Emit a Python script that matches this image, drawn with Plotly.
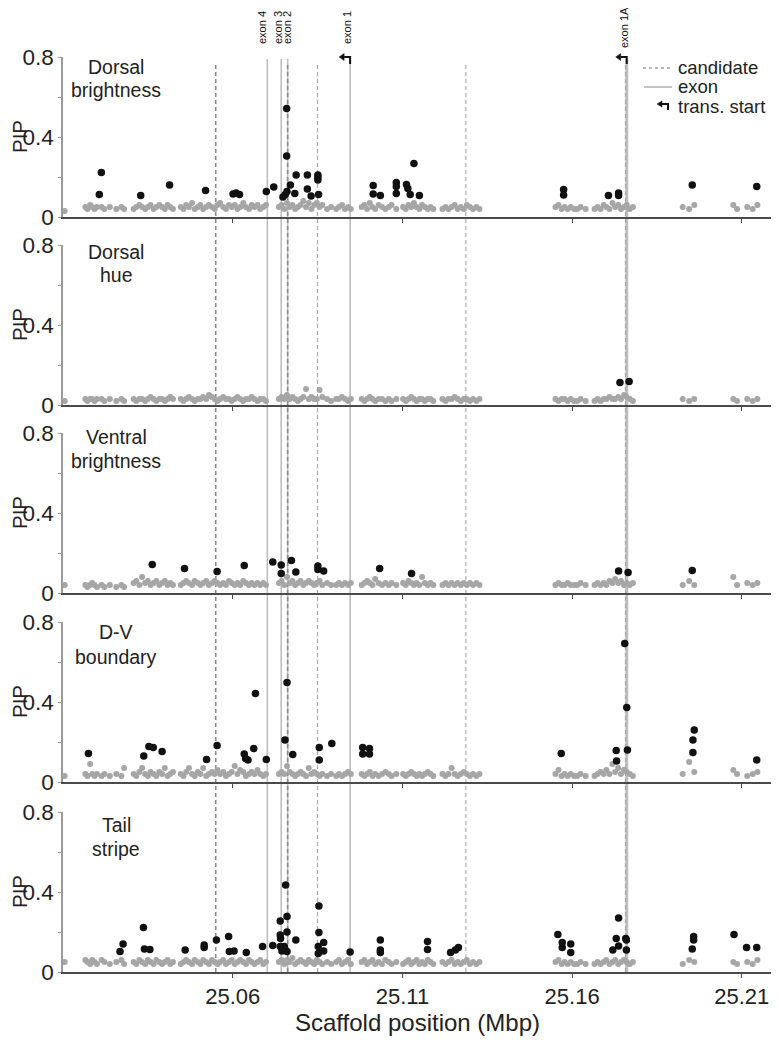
import plotly.graph_objects as go

# ---------------- data ----------------
PANEL_LABELS = [["Dorsal", "brightness"], ["Dorsal", "hue"], ["Ventral", "brightness"],
                ["D-V", "boundary"], ["Tail", "stripe"]]
X_TICKS = [25.06, 25.11, 25.16, 25.21]
X_TICK_TEXT = ["25.06", "25.11", "25.16", "25.21"]
Y_TICKS = [0, 0.2, 0.4, 0.6, 0.8]
Y_TICK_TEXT = ["0", "", "0.4", "", "0.8"]

CANDIDATES = [25.0550, 25.0762, 25.0850, 25.1287, 25.1757]
EXON_POS = [25.0702, 25.0743, 25.0762, 25.0946, 25.1761]
EXON_NAMES = ["exon 4", "exon 3", "exon 2", "exon 1", "exon 1A"]
TRANS_START = [25.0946, 25.1761]
LEGEND_ITEMS = ["candidate", "exon", "trans. start"]

# SNP positions shown in grey (shared by all panels)
GRAY_POS = [
    25.0105,
    25.0166, 25.0172, 25.0180, 25.0186, 25.0193, 25.0200,
    25.0214, 25.0222, 25.0238, 25.0257, 25.0272, 25.0280,
    25.0308, 25.0316, 25.0325, 25.0333, 25.0342, 25.0350, 25.0358, 25.0367, 25.0375, 25.0384,
    25.0392, 25.0400, 25.0408, 25.0416, 25.0424,
    25.0447, 25.0455, 25.0463, 25.0471, 25.0480, 25.0488, 25.0497, 25.0505, 25.0513, 25.0522,
    25.0530, 25.0539, 25.0547, 25.0555, 25.0563, 25.0572, 25.0580, 25.0589, 25.0597, 25.0606,
    25.0614, 25.0622, 25.0631, 25.0639, 25.0648, 25.0656, 25.0664, 25.0673, 25.0681, 25.0690, 25.0698,
    25.0736, 25.0744, 25.0752, 25.0760, 25.0768, 25.0776, 25.0784, 25.0792, 25.0800, 25.0808,
    25.0816, 25.0824, 25.0832, 25.0840, 25.0848, 25.0856, 25.0864, 25.0878, 25.0890, 25.0905,
    25.0913, 25.0922, 25.0931, 25.0940, 25.0948,
    25.0980, 25.0988, 25.0996, 25.1004, 25.1012, 25.1020, 25.1030, 25.1040, 25.1050, 25.1060, 25.1068,
    25.1082,
    25.1102, 25.1110, 25.1118, 25.1126, 25.1134, 25.1142, 25.1150, 25.1158, 25.1166, 25.1175, 25.1183, 25.1191,
    25.1218, 25.1227, 25.1236, 25.1245, 25.1254, 25.1263, 25.1272, 25.1281, 25.1290, 25.1299, 25.1308, 25.1318, 25.1327,
    25.1551, 25.1560, 25.1569, 25.1578, 25.1587, 25.1596, 25.1606, 25.1615, 25.1625, 25.1640,
    25.1666, 25.1675, 25.1684, 25.1693, 25.1701, 25.1710, 25.1719, 25.1727, 25.1736, 25.1744,
    25.1753, 25.1761, 25.1770, 25.1779,
    25.1926, 25.1945, 25.1960,
    25.2075, 25.2086, 25.2116, 25.2132, 25.2146,
]

GRAY_DB = [
    0.03,
    0.05, 0.04, 0.06, 0.05, 0.04, 0.05,
    0.05, 0.04, 0.05, 0.04, 0.05, 0.04,
    0.04, 0.05, 0.06, 0.05, 0.04, 0.05, 0.06, 0.04, 0.05, 0.06, 0.05, 0.04, 0.06, 0.05, 0.04,
    0.05, 0.04, 0.06, 0.05, 0.07, 0.04, 0.05, 0.06, 0.04, 0.05, 0.06, 0.05, 0.04, 0.06, 0.07, 0.05,
    0.04, 0.06, 0.05, 0.06, 0.04, 0.05, 0.07, 0.05, 0.04, 0.06, 0.05, 0.06, 0.04, 0.05, 0.06,
    0.05, 0.06, 0.04, 0.07, 0.05, 0.06, 0.04, 0.05, 0.06, 0.08, 0.05, 0.07, 0.04, 0.06, 0.07, 0.05,
    0.06, 0.04, 0.05, 0.04, 0.05, 0.06, 0.04, 0.05, 0.04,
    0.05, 0.06, 0.04, 0.07, 0.05, 0.04, 0.06, 0.05, 0.04, 0.05, 0.06,
    0.04,
    0.05, 0.04, 0.06, 0.05, 0.07, 0.05, 0.04, 0.06, 0.05, 0.04, 0.05, 0.04,
    0.04, 0.05, 0.04, 0.05, 0.06, 0.04, 0.05, 0.04, 0.06, 0.05, 0.04, 0.05, 0.04,
    0.05, 0.06, 0.04, 0.05, 0.04, 0.05, 0.04, 0.04, 0.05, 0.04,
    0.04, 0.05, 0.04, 0.06, 0.05, 0.04, 0.07, 0.05, 0.06, 0.04, 0.05, 0.06, 0.04, 0.05,
    0.05, 0.04, 0.06,
    0.06, 0.04, 0.05, 0.04, 0.06,
]
GRAY_DH = [
    0.02,
    0.03, 0.02, 0.03, 0.03, 0.02, 0.03,
    0.03, 0.02, 0.03, 0.02, 0.03, 0.02,
    0.03, 0.02, 0.03, 0.03, 0.02, 0.03, 0.04, 0.03, 0.02, 0.03, 0.03, 0.02, 0.03, 0.04, 0.03,
    0.03, 0.02, 0.03, 0.04, 0.03, 0.02, 0.03, 0.03, 0.04, 0.03, 0.05, 0.04, 0.03, 0.02, 0.03, 0.04,
    0.03, 0.03, 0.02, 0.03, 0.04, 0.03, 0.02, 0.03, 0.03, 0.04, 0.03, 0.02, 0.03, 0.03, 0.02,
    0.03, 0.04, 0.03, 0.05, 0.03, 0.04, 0.03, 0.02, 0.03, 0.04, 0.08, 0.03, 0.04, 0.03, 0.03, 0.075,
    0.04, 0.03, 0.02, 0.03, 0.03, 0.04, 0.03, 0.02, 0.03,
    0.03, 0.02, 0.03, 0.04, 0.03, 0.02, 0.03, 0.03, 0.02, 0.03, 0.02,
    0.03,
    0.03, 0.02, 0.03, 0.04, 0.03, 0.02, 0.03, 0.03, 0.02, 0.03, 0.03, 0.02,
    0.03, 0.02, 0.03, 0.03, 0.04, 0.03, 0.02, 0.03, 0.03, 0.02, 0.03, 0.02, 0.03,
    0.03, 0.02, 0.03, 0.03, 0.02, 0.03, 0.02, 0.02, 0.03, 0.02,
    0.02, 0.03, 0.02, 0.03, 0.03, 0.04, 0.03, 0.03, 0.04, 0.03, 0.05, 0.04, 0.03, 0.02,
    0.03, 0.02, 0.03,
    0.03, 0.02, 0.03, 0.02, 0.03,
]
GRAY_VB = [
    0.04,
    0.04, 0.03, 0.04, 0.05, 0.04, 0.03,
    0.04, 0.03, 0.04, 0.03, 0.04, 0.03,
    0.05, 0.06, 0.04, 0.08, 0.05, 0.06, 0.04, 0.05, 0.06, 0.04, 0.05, 0.06, 0.04, 0.05, 0.04,
    0.04, 0.05, 0.06, 0.05, 0.04, 0.06, 0.05, 0.04, 0.05, 0.06, 0.04, 0.05, 0.06, 0.05, 0.04, 0.05,
    0.04, 0.06, 0.05, 0.04, 0.05, 0.04, 0.06, 0.05, 0.04, 0.05, 0.04, 0.05, 0.04, 0.05, 0.04,
    0.05, 0.06, 0.04, 0.08, 0.05, 0.06, 0.04, 0.05, 0.06, 0.04, 0.05, 0.06, 0.05, 0.04, 0.05, 0.06,
    0.04, 0.05, 0.04, 0.04, 0.05, 0.04, 0.05, 0.04, 0.05,
    0.04, 0.05, 0.06, 0.05, 0.04, 0.07, 0.05, 0.04, 0.05, 0.04, 0.05,
    0.04,
    0.05, 0.04, 0.06, 0.05, 0.04, 0.05, 0.04, 0.08, 0.05, 0.04, 0.05, 0.04,
    0.04, 0.05, 0.04, 0.05, 0.04, 0.05, 0.04, 0.05, 0.04, 0.05, 0.04, 0.05, 0.04,
    0.04, 0.05, 0.04, 0.04, 0.05, 0.04, 0.04, 0.04, 0.05, 0.04,
    0.04, 0.05, 0.04, 0.05, 0.04, 0.06, 0.05, 0.07, 0.05, 0.06, 0.04, 0.05, 0.04, 0.05,
    0.04, 0.06, 0.04,
    0.08, 0.04, 0.05, 0.04, 0.05,
]
GRAY_DV = [
    0.03,
    0.04, 0.03, 0.09, 0.04, 0.03, 0.04,
    0.03, 0.04, 0.03, 0.04, 0.03, 0.07,
    0.04, 0.03, 0.05, 0.07, 0.04, 0.03, 0.05, 0.04, 0.03, 0.05, 0.04, 0.07, 0.03, 0.04, 0.05,
    0.04, 0.03, 0.05, 0.07, 0.04, 0.03, 0.05, 0.04, 0.07, 0.03, 0.04, 0.05, 0.04, 0.06, 0.04, 0.05,
    0.03, 0.04, 0.05, 0.08, 0.04, 0.06, 0.05, 0.03, 0.04, 0.05, 0.04, 0.06, 0.04, 0.03, 0.04,
    0.04, 0.05, 0.04, 0.08, 0.05, 0.04, 0.03, 0.04, 0.05, 0.04, 0.03, 0.07, 0.04, 0.05, 0.04, 0.03,
    0.04, 0.03, 0.04, 0.03, 0.04, 0.03, 0.04, 0.05, 0.04,
    0.04, 0.03, 0.04, 0.05, 0.03, 0.04, 0.03, 0.04, 0.05, 0.04, 0.03,
    0.04,
    0.04, 0.03, 0.04, 0.05, 0.04, 0.03, 0.04, 0.03, 0.04, 0.05, 0.04, 0.03,
    0.04, 0.03, 0.04, 0.07, 0.04, 0.03, 0.04, 0.05, 0.04, 0.03, 0.04, 0.03, 0.04,
    0.04, 0.06, 0.03, 0.04, 0.03, 0.04, 0.03, 0.03, 0.04, 0.03,
    0.03, 0.04, 0.05, 0.04, 0.06, 0.04, 0.09, 0.05, 0.07, 0.04, 0.06, 0.05, 0.04, 0.03,
    0.04, 0.10, 0.05,
    0.06, 0.04, 0.03, 0.04, 0.05,
]
GRAY_TS = [
    0.05,
    0.06, 0.05, 0.04, 0.06, 0.05, 0.04,
    0.06, 0.05, 0.04, 0.05, 0.06, 0.04,
    0.05, 0.04, 0.06, 0.05, 0.04, 0.06, 0.05, 0.04, 0.06, 0.05, 0.04, 0.05, 0.06, 0.04, 0.05,
    0.04, 0.05, 0.06, 0.05, 0.04, 0.06, 0.05, 0.04, 0.06, 0.05, 0.04, 0.06, 0.05, 0.04, 0.05, 0.06,
    0.04, 0.05, 0.06, 0.04, 0.05, 0.06, 0.05, 0.04, 0.06, 0.05, 0.04, 0.05, 0.06, 0.04, 0.05,
    0.05, 0.06, 0.04, 0.06, 0.05, 0.07, 0.04, 0.05, 0.06, 0.05, 0.04, 0.06, 0.05, 0.04, 0.06, 0.05,
    0.04, 0.05, 0.04, 0.05, 0.06, 0.04, 0.05, 0.06, 0.04,
    0.05, 0.06, 0.04, 0.05, 0.06, 0.04, 0.05, 0.04, 0.06, 0.05, 0.04,
    0.05,
    0.04, 0.05, 0.06, 0.04, 0.05, 0.06, 0.04, 0.05, 0.04, 0.06, 0.05, 0.04,
    0.05, 0.04, 0.05, 0.06, 0.04, 0.05, 0.04, 0.05, 0.06, 0.04, 0.05, 0.04, 0.05,
    0.05, 0.06, 0.04, 0.05, 0.04, 0.05, 0.04, 0.04, 0.05, 0.04,
    0.04, 0.05, 0.04, 0.05, 0.06, 0.04, 0.05, 0.06, 0.04, 0.05, 0.06, 0.05, 0.04, 0.05,
    0.04, 0.06, 0.05,
    0.05, 0.04, 0.05, 0.04, 0.06,
]

# highlighted (black) SNPs per panel
BLK_DB_X = [25.0213, 25.0207, 25.0329, 25.0414, 25.0520, 25.0601, 25.0610, 25.0620, 25.0699, 25.0721,
            25.0748, 25.0759, 25.0759, 25.0770, 25.0760, 25.0755, 25.0783, 25.0787, 25.0820, 25.0820,
            25.0831, 25.0851, 25.0851, 25.0851, 25.0853, 25.1014, 25.1014, 25.1035, 25.1082, 25.1082,
            25.1082, 25.1112, 25.1116, 25.1123, 25.1134, 25.1150, 25.1575, 25.1575, 25.1707, 25.1737,
            25.1737, 25.1954, 25.2144]
BLK_DB_Y = [0.223, 0.113, 0.107, 0.160, 0.132, 0.115, 0.120, 0.113, 0.127, 0.150,
            0.100, 0.543, 0.305, 0.160, 0.127, 0.113, 0.118, 0.210, 0.210, 0.140,
            0.105, 0.210, 0.197, 0.185, 0.113, 0.157, 0.115, 0.107, 0.173, 0.152,
            0.118, 0.163, 0.143, 0.113, 0.268, 0.107, 0.138, 0.110, 0.107, 0.120,
            0.107, 0.160, 0.152]
BLK_DH_X = [25.1741, 25.1768]
BLK_DH_Y = [0.113, 0.117]
BLK_VB_X = [25.0363, 25.0458, 25.0554, 25.0634, 25.0718, 25.0743, 25.0743, 25.0773, 25.0786, 25.0851,
            25.0851, 25.0868, 25.1033, 25.1127, 25.1737, 25.1765, 25.1954]
BLK_VB_Y = [0.143, 0.122, 0.107, 0.137, 0.155, 0.140, 0.098, 0.162, 0.105, 0.135,
            0.118, 0.110, 0.122, 0.098, 0.110, 0.102, 0.113]
BLK_DV_X = [25.0175, 25.0338, 25.0353, 25.0366, 25.0392, 25.0523, 25.0554, 25.0634, 25.0638, 25.0645,
            25.0662, 25.0667, 25.0699, 25.0754, 25.0760, 25.0777, 25.0855, 25.0855, 25.0892, 25.0983,
            25.0983, 25.1003, 25.1003, 25.1568, 25.1730, 25.1731, 25.1755, 25.1761, 25.1763, 25.1960,
            25.1956, 25.1956, 25.2144]
BLK_DV_Y = [0.143, 0.130, 0.177, 0.172, 0.152, 0.113, 0.182, 0.140, 0.118, 0.110,
            0.168, 0.442, 0.113, 0.210, 0.497, 0.138, 0.173, 0.110, 0.193, 0.173,
            0.140, 0.168, 0.140, 0.143, 0.157, 0.105, 0.693, 0.373, 0.160, 0.260,
            0.210, 0.148, 0.110]
BLK_TS_X = [25.0268, 25.0277, 25.0337, 25.0340, 25.0356, 25.0460, 25.0516, 25.0516, 25.0552, 25.0588,
            25.0590, 25.0604, 25.0640, 25.0688, 25.0718, 25.0740, 25.0741, 25.0740, 25.0740, 25.0745,
            25.0756, 25.0760, 25.0760, 25.0760, 25.0752, 25.0786, 25.0854, 25.0854, 25.0852, 25.0852,
            25.0868, 25.0868, 25.0946, 25.1035, 25.1035, 25.1035, 25.1174, 25.1174, 25.1242, 25.1256,
            25.1265, 25.1558, 25.1571, 25.1596, 25.1571, 25.1596, 25.1737, 25.1730, 25.1737, 25.1720,
            25.1758, 25.1760, 25.1760, 25.1958, 25.1958, 25.1954, 25.2077, 25.2114, 25.2144]
BLK_TS_Y = [0.102, 0.140, 0.223, 0.115, 0.113, 0.110, 0.122, 0.135, 0.160, 0.177,
            0.102, 0.105, 0.098, 0.127, 0.132, 0.255, 0.168, 0.185, 0.127, 0.105,
            0.435, 0.277, 0.200, 0.102, 0.127, 0.160, 0.330, 0.198, 0.127, 0.093,
            0.148, 0.105, 0.100, 0.160, 0.110, 0.098, 0.152, 0.113, 0.098, 0.110,
            0.122, 0.188, 0.148, 0.140, 0.122, 0.097, 0.270, 0.168, 0.130, 0.110,
            0.168, 0.160, 0.110, 0.178, 0.160, 0.115, 0.188, 0.123, 0.123]

GRAY_Y = [GRAY_DB, GRAY_DH, GRAY_VB, GRAY_DV, GRAY_TS]
BLK_X = [BLK_DB_X, BLK_DH_X, BLK_VB_X, BLK_DV_X, BLK_TS_X]
BLK_Y = [BLK_DB_Y, BLK_DH_Y, BLK_VB_Y, BLK_DV_Y, BLK_TS_Y]

# ---------------- layout geometry (screen pixels; page body has an 8px margin) ----------------
W, H = 779, 1040
OFF = 8                      # browser default body margin
PLOT_L, PLOT_R = 63, 776     # screen px of plot area
ML = PLOT_L - OFF
PW = PLOT_R - PLOT_L
MR = W - (PLOT_R - OFF)
X0 = 25.01
PX_PER_UNIT = 3394.0
X_RANGE = [X0, X0 + PW / PX_PER_UNIT]
PANEL_PX = [(57, 217), (245, 405), (433, 593), (622, 782), (812, 972)]
LABEL_LINES_PX = [(67, 90), (252, 275), (437, 461), (632, 657), (825, 849)]

FONT = "Liberation Sans, Arial, sans-serif"
TXT = "#222222"


def sx(px):
    """screen px -> paper x"""
    return (px - OFF - ML) / PW


def sy(py):
    """screen px -> paper y"""
    return 1 - (py - OFF) / H


def data_to_px(x):
    return PLOT_L + (x - X0) * PX_PER_UNIT


fig = go.Figure()
for i in range(5):
    xa = "x" if i == 0 else f"x{i+1}"
    ya = "y" if i == 0 else f"y{i+1}"
    fig.add_trace(go.Scatter(x=GRAY_POS, y=GRAY_Y[i], mode="markers", xaxis=xa, yaxis=ya,
                             marker=dict(size=6, color="#a6a6a6"), showlegend=False,
                             hoverinfo="skip"))
    fig.add_trace(go.Scatter(x=BLK_X[i], y=BLK_Y[i], mode="markers", xaxis=xa, yaxis=ya,
                             marker=dict(size=7.5, color="#111111"), showlegend=False))

layout = dict(
    width=W, height=H, paper_bgcolor="white", plot_bgcolor="rgba(0,0,0,0)",
    margin=dict(l=ML, r=MR, t=0, b=0, autoexpand=False),
    font=dict(family=FONT, color=TXT), showlegend=False,
)
for i, (top, bot) in enumerate(PANEL_PX):
    xk = "xaxis" if i == 0 else f"xaxis{i+1}"
    yk = "yaxis" if i == 0 else f"yaxis{i+1}"
    layout[xk] = dict(domain=[0, 1], range=X_RANGE, anchor="y" if i == 0 else f"y{i+1}",
                      showline=True, linecolor="#4a4a4a", linewidth=1.6, ticks="outside",
                      ticklen=4, tickcolor="#4a4a4a", tickwidth=1.2, tickvals=X_TICKS,
                      ticktext=X_TICK_TEXT, showticklabels=(i == 4),
                      tickfont=dict(size=22, color=TXT, family=FONT),
                      showgrid=False, zeroline=False, fixedrange=True)
    layout[yk] = dict(domain=[sy(bot), sy(top)], range=[0, 0.8],
                      anchor="x" if i == 0 else f"x{i+1}",
                      showline=True, linecolor="#9a9a9a", linewidth=1.5, ticks="outside",
                      ticklen=3, tickcolor="#9a9a9a", tickvals=Y_TICKS, ticktext=Y_TICK_TEXT,
                      tickfont=dict(size=22.5, color=TXT, family=FONT),
                      showgrid=False, zeroline=False, fixedrange=True)
fig.update_layout(**layout)

shapes = []
# exon lines (solid light grey)
for k, xv in enumerate(EXON_POS):
    shapes.append(dict(type="line", xref="x", yref="paper", x0=xv, x1=xv,
                       y0=sy(972), y1=sy(59), layer="below",
                       line=dict(color="#bdbdbd", width=3 if k == 4 else 1.6)))
# candidate lines (dashed grey)
for k, xv in enumerate(CANDIDATES):
    shapes.append(dict(type="line", xref="x", yref="paper", x0=xv, x1=xv,
                       y0=sy(972), y1=sy(62), layer="below",
                       line=dict(color="#8a8a8a" if k in (0, 1) else "#a5a5a5",
                                 width=1.6 if k in (0, 1) else 1.1, dash="4px,3px")))


def bent_arrow(xr, ytop, ybot, bar, head_len, head_half):
    """'trans. start' glyph: stem up from ybot to ytop, bar left, filled head (screen px)."""
    stem = (f"M {sx(xr)},{sy(ybot)} L {sx(xr)},{sy(ytop)} L {sx(xr - bar)},{sy(ytop)}")
    head = (f"M {sx(xr - bar)},{sy(ytop - head_half)} L {sx(xr - bar)},{sy(ytop + head_half)} "
            f"L {sx(xr - bar - head_len)},{sy(ytop)} Z")
    return [dict(type="path", xref="paper", yref="paper", path=stem,
                 line=dict(color="#111111", width=2)),
            dict(type="path", xref="paper", yref="paper", path=head,
                 line=dict(color="#111111", width=0.5), fillcolor="#111111")]


for xv in TRANS_START:
    shapes += bent_arrow(data_to_px(xv), 57, 64, 6, 5, 3.5)

# legend samples
shapes.append(dict(type="line", xref="paper", yref="paper", x0=sx(643), x1=sx(673),
                   y0=sy(68), y1=sy(68), line=dict(color="#a0a0a0", width=1.4, dash="3px,3px")))
shapes.append(dict(type="line", xref="paper", yref="paper", x0=sx(644), x1=sx(672),
                   y0=sy(87), y1=sy(87), line=dict(color="#b5b5b5", width=1.6)))
shapes += bent_arrow(668, 104, 110, 6, 5, 3)

annotations = []
# exon labels (rotated)
EXON_LABEL_PX = [262, 278, 287, 347, 624]
for name, px in zip(EXON_NAMES, EXON_LABEL_PX):
    annotations.append(dict(xref="paper", yref="paper", x=sx(px), y=sy(28), text=name,
                            textangle=-90, showarrow=False, xanchor="center", yanchor="middle",
                            font=dict(size=11, color="#111111", family=FONT)))

# legend text
for txt, py in zip(LEGEND_ITEMS, [67, 86.5, 106]):
    annotations.append(dict(xref="paper", yref="paper", x=sx(676), y=sy(py), text=txt,
                            showarrow=False, xanchor="left", yanchor="middle",
                            font=dict(size=18.5, color=TXT, family=FONT)))

# panel labels and PIP titles
for i, (top, bot) in enumerate(PANEL_PX):
    for line_txt, py in zip(PANEL_LABELS[i], LABEL_LINES_PX[i]):
        annotations.append(dict(xref="paper", yref="paper", x=sx(116), y=sy(py),
                                text=line_txt, showarrow=False, xanchor="center",
                                yanchor="middle", font=dict(size=19.5, color=TXT, family=FONT)))
    annotations.append(dict(xref="paper", yref="paper", x=sx(19), y=sy((top + bot) / 2),
                            text="PIP", textangle=-90, showarrow=False, xanchor="center",
                            yanchor="middle", font=dict(size=20.5, color=TXT, family=FONT)))

annotations.append(dict(xref="paper", yref="paper", x=sx(417), y=sy(1022),
                        text="Scaffold position (Mbp)", showarrow=False, xanchor="center",
                        yanchor="middle", font=dict(size=24, color=TXT, family=FONT)))

fig.update_layout(shapes=shapes, annotations=annotations)
fig.write_html("out.html")
